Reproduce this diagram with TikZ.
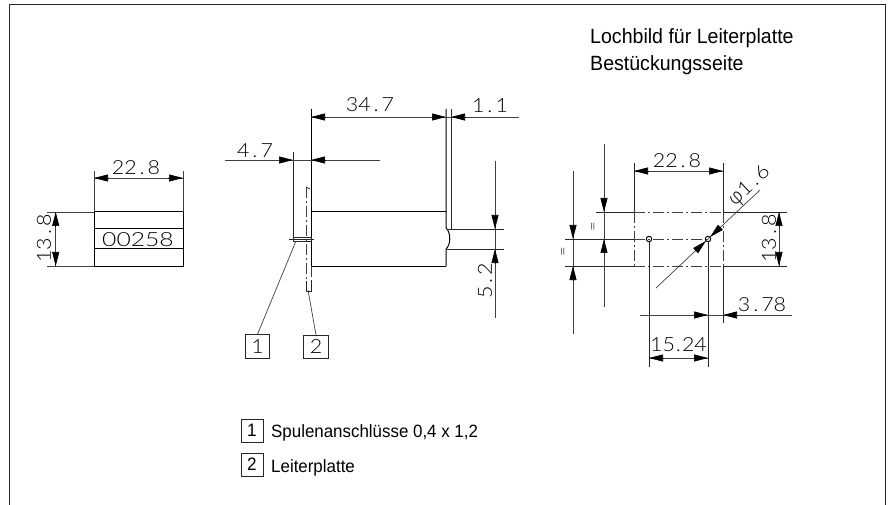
\documentclass[tikz,border=0pt]{standalone}
\usepackage{fontspec}
\setmainfont{Liberation Sans}[FakeStretch=0.95]
\newfontfamily\cad{Lato Light}[FakeStretch=1.1]
\newfontfamily\phifont{Open Sans Light}
\usetikzlibrary{arrows.meta}
\newcommand{\dt}{\kern3pt.\kern3pt}
\tikzset{
  x=1pt,y=-1pt,
  ln/.style={line width=0.8pt,draw=black!85},
  thin ln/.style={line width=0.7pt,draw=black!75},
  heavy/.style={line width=1pt,draw=black},
  cl/.style={line width=0.7pt,draw=black!75,dash pattern=on 11pt off 3pt on 2pt off 3pt},
  arr/.style={line width=0.7pt,-{Triangle[length=14pt,width=7pt]},draw=black,fill=black},
  dimtext/.style={font=\cad\fontsize{19.5}{19.5}\selectfont,inner sep=0pt,text=black},
  label/.style={font=\fontsize{20.6}{20.6}\selectfont,inner sep=0pt,anchor=west},
  legend/.style={font=\fontsize{17.8}{17.8}\selectfont,inner sep=0pt,anchor=west},
  keybox/.style={draw=black!85,line width=0.9pt,minimum width=22pt,minimum height=23pt,inner sep=0pt,font=\fontsize{18}{18}\selectfont},
  tagbox/.style={draw=black!85,line width=0.9pt,minimum width=24.5pt,minimum height=23.5pt,inner sep=0pt,font=\cad\fontsize{19.5}{19.5}\selectfont},
}
\begin{document}
\begin{tikzpicture}
\useasboundingbox (0,0) rectangle (889,505);
% frame
\draw[line width=1pt,draw=black!85] (9,505) -- (9,5) -- (885,5) -- (885,505);
% headings
\node[label] (h1) at (590,38) {Lochbild für Leiterplatte};
\node[label] (h2) at (590,65) {Bestückungsseite};
% legend
\node[keybox] (k1) at (252,430.5) {1};
\node[keybox] (k2) at (252,464.5) {2};
\node[legend] (t1) at (271,432.5) {Spulenanschlüsse 0,4 x 1,2};
\node[legend] (t2) at (271,467.5) {Leiterplatte};

% left view
\draw[heavy] (94,212) rectangle (183,266);
\draw[heavy] (94,229) -- (183,229) (94,249) -- (183,249);
\draw[thin ln] (94,171) -- (94,212) (183,171) -- (183,212);
\draw[thin ln] (47,212) -- (94,212) (47,266) -- (94,266);
\draw[thin ln] (94,178) -- (183,178);
\draw[arr] (109,178) -- (94,178);
\draw[arr] (168,178) -- (183,178);
\draw[thin ln] (55.7,212) -- (55.7,266);
\draw[arr] (55.7,226) -- (55.7,212);
\draw[arr] (55.7,252) -- (55.7,266);
\node[dimtext] (a) at (136,168) {22\dt 8};
\node[dimtext,rotate=90] (b) at (44,238.5) {13\dt 8};
\node[dimtext,xscale=1.15] (c) at (138,239.5) {00258};

% middle view
\draw[heavy] (311,212) -- (446,212);
\draw[heavy] (311,266) -- (446,266);
\draw[heavy] (311,109) -- (311,266);
\draw[ln] (293,152) -- (293,241);
\draw[heavy] (446,109) -- (446,228) .. controls (451,232) and (451,245) .. (446,249) -- (446,266);
\draw[ln] (451,109) -- (451,230);
\draw[cl] (306,187) -- (306,290);
\draw[cl] (311,266) -- (311,284);
\draw[ln] (293,237) -- (311,237) -- (311,241) -- (293,241);
\draw[ln] (289,239) -- (314,239);
\draw[ln] (306,281) -- (306,291) -- (311,291) -- (311,280);
\draw[ln] (306,187) -- (310,189);
\draw[ln] (447,229) -- (504,229) (447,249) -- (504,249);
% dims
\draw[thin ln] (311,117) -- (446,117) (446,117) -- (451,117);
\draw[arr] (325,117) -- (311,117);
\draw[arr] (432,117) -- (446,117);
\draw[thin ln] (451,117) -- (519,117);
\draw[arr] (465,117) -- (451,117);
\draw[thin ln] (225,160) -- (380,160);
\draw[arr] (279,160) -- (293,160);
\draw[arr] (325,160) -- (311,160);
\draw[thin ln] (495,161) -- (495,318);
\draw[arr] (495,215) -- (495,229);
\draw[arr] (495,263) -- (495,249);
\node[dimtext] (d) at (370,105) {34\dt 7};
\node[dimtext] (e) at (490,106) {1\dt 1};
\node[dimtext] (f) at (255,151) {4\dt 7};
\node[dimtext,rotate=90] (g) at (485,281) {5\dt 2};
\node[tagbox] (k3) at (257.5,346.5) {1};
\node[tagbox] (k4) at (316,347) {2};
\coordinate (p1) at (296,241);
\coordinate (p2) at (308,290);
\draw[thin ln] (p1) -- (k3.north);
\draw[thin ln] (p2) -- (k4.north);

% right view
\draw[cl] (634,212) -- (723,212);
\draw[cl] (634,266) -- (723,266);
\draw[cl] (634,239) -- (708,239);
\draw[cl] (634,212) -- (634,266);
\draw[cl] (723,212) -- (723,266);
\draw[ln] (634,163) -- (634,212);
\draw[ln] (723,163) -- (723,212) (723,266) -- (723,323);
\draw[ln] (596,212) -- (634,212) (723,212) -- (787,212);
\draw[ln] (565,239) -- (634,239);
\draw[ln] (565,266) -- (634,266) (723,266) -- (787,266);
\draw[ln] (649,242) -- (649,367) (708,242) -- (708,367);
\draw[line width=1pt] (649,239) circle (2.7) (708,239) circle (2.7);
% vertical dims
\draw[thin ln] (604,144) -- (604,307);
\draw[arr] (604,198) -- (604,212);
\draw[arr] (604,253) -- (604,239);
\draw[thin ln] (573,171) -- (573,334);
\draw[arr] (573,225) -- (573,239);
\draw[arr] (573,280) -- (573,266);
\draw[thin ln] (779,212) -- (779,266);
\draw[arr] (779,226) -- (779,212);
\draw[arr] (779,252) -- (779,266);
% horizontal dims
\draw[thin ln] (634,171) -- (723,171);
\draw[arr] (648,171) -- (634,171);
\draw[arr] (709,171) -- (723,171);
\draw[thin ln] (649,358) -- (708,358);
\draw[arr] (663,358) -- (649,358);
\draw[arr] (694,358) -- (708,358);
\draw[thin ln] (640,315) -- (792,315);
\draw[arr] (694,315) -- (708,315);
\draw[arr] (737,315) -- (723,315);
% diameter leader
\coordinate (q1) at (656,288);
\coordinate (q2) at (760,190);
\draw[thin ln] (q1) -- (q2);
\draw[arr] (695.7,250.6) -- (705.8,241.1);
\draw[arr] (720.3,227.4) -- (710.2,236.9);
\node[dimtext] (n1) at (677,160.5) {22\dt 8};
\node[dimtext,rotate=90] (n2) at (769,238.5) {13\dt 8};
\node[dimtext] (n3) at (762,304.5) {3\dt 78};
\node[dimtext] (n4) at (678.5,345) {15\kern1pt.\kern1pt 24};
\node[dimtext,rotate=43] (n5) at (750,186) {{\phifont φ}1\dt 6};
\node[dimtext,rotate=90,font=\cad\fontsize{15}{15}\selectfont] (n6) at (594.5,227) {=};
\node[dimtext,rotate=90,font=\cad\fontsize{15}{15}\selectfont] (n7) at (564.5,252) {=};
\end{tikzpicture}
\end{document}
